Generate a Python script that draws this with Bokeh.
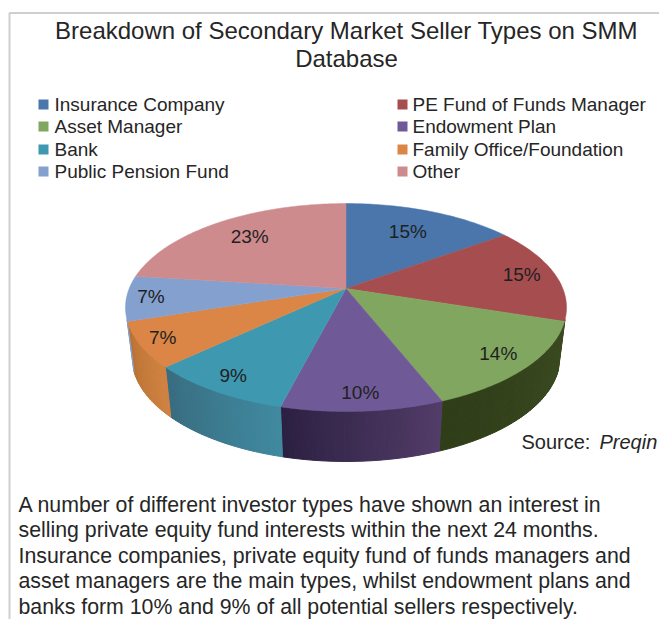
import math
from bokeh.plotting import figure
from bokeh.embed import file_html
from bokeh.resources import INLINE
from bokeh.core.properties import value

title_lines = ["Breakdown of Secondary Market Seller Types on SMM", "Database"]
categories = ["Insurance Company", "PE Fund of Funds Manager", "Asset Manager", "Endowment Plan",
              "Bank", "Family Office/Foundation", "Public Pension Fund", "Other"]
shares = [15, 15, 14, 10, 9, 7, 7, 23]
top_colors = ["#4a76ab", "#a64d4f", "#81a65f", "#6f5a97", "#3e98b0", "#db8646", "#84a0cf", "#cd8b8e"]
wall_start = ["#2f4a6d", "#6b3233", "#3a4a20", "#523c68", "#40899f", "#d08242", "#84a0cf", "#cd8b8e"]
wall_end = ["#2f4a6d", "#6b3233", "#2f3d18", "#2c2042", "#386c80", "#b97232", "#84a0cf", "#cd8b8e"]
label_radius = [0.70, 0.84, 0.86, 0.88, 0.88, 0.9, 0.89, 0.74]
body_lines = [
    "A number of different investor types have shown an interest in",
    "selling private equity fund interests within the next 24 months.",
    "Insurance companies, private equity fund of funds managers and",
    "asset managers are the main types, whilst endowment plans and",
    "banks form 10% and 9% of all potential sellers respectively.",
]

W, H = 659, 619
CX, CY, R, C, K = 345.5, 288.0, 216.8, 100.5, 0.1827
DEPTH, SHRINK = 50.0, 0.97
INK = "#262626"
FONT = value("Liberation Sans")

p = figure(width=W, height=H, x_range=(0, W), y_range=(H, 0), output_backend="svg",
           toolbar_location=None, min_border=0, outline_line_color=None,
           background_fill_color="white", border_fill_color="white")
p.axis.visible = False
p.grid.visible = False


def project(theta, r=1.0):
    u, v = r * math.sin(theta), r * math.cos(theta)
    d = 1 + K * v
    return R * u / d, C * v / d


def mix(a, b, t):
    ca = [int(a[i:i + 2], 16) for i in (1, 3, 5)]
    cb = [int(b[i:i + 2], 16) for i in (1, 3, 5)]
    return "#%02x%02x%02x" % tuple(round(x + (y - x) * t) for x, y in zip(ca, cb))


# frame
p.line([9, 9, W], [H, 12.5, 12.5], line_color="#cfcfcf", line_width=2)

# slice boundaries
total = sum(shares)
bounds, acc = [0.0], 0
for s in shares:
    acc += s
    bounds.append(2 * math.pi * acc / total)

# side wall
qx, qy, qc = [], [], []
for i in range(len(shares)):
    a0, a1 = bounds[i], bounds[i + 1]
    n = max(2, int(math.degrees(a1 - a0)))
    for j in range(n):
        t0, t1 = a0 + (a1 - a0) * j / n, a0 + (a1 - a0) * (j + 1) / n
        m = (t0 + t1) / 2
        if math.cos(m) > -0.3:
            continue
        x0, y0 = project(t0)
        x1, y1 = project(t1)
        qx.append([CX + x0, CX + x1, CX + x1 * SHRINK, CX + x0 * SHRINK])
        qy.append([CY - y0, CY - y1, CY - y1 + DEPTH, CY - y0 + DEPTH])
        qc.append(mix(wall_start[i], wall_end[i], j / max(1, n - 1)))
p.patches(qx, qy, fill_color=qc, line_color=qc, line_width=1)

# top face
fx, fy = [], []
for i in range(len(shares)):
    a0, a1 = bounds[i], bounds[i + 1]
    n = max(2, int(math.degrees(a1 - a0)))
    xs, ys = [CX], [CY]
    for j in range(n + 1):
        x, y = project(a0 + (a1 - a0) * j / n)
        xs.append(CX + x)
        ys.append(CY - y)
    fx.append(xs)
    fy.append(ys)
p.patches(fx, fy, fill_color=top_colors, line_color=top_colors, line_width=0.5)

# percentage labels
lx, ly, lt = [], [], []
for i, s in enumerate(shares):
    x, y = project((bounds[i] + bounds[i + 1]) / 2, label_radius[i])
    lx.append(CX + x)
    ly.append(CY - y - 1)
    lt.append(f"{s}%")
p.text(lx, ly, text=lt, text_font=FONT, text_font_size="19px", text_color="#1f1f1f",
       text_align="center", text_baseline="middle")

# title
p.text([346, 346], [30, 58], text=title_lines, text_font=FONT, text_font_size="24px",
       text_color=INK, text_align="center", text_baseline="middle")

# legend
col_x = [38, 397]
row_y = [104, 126, 149, 171]
sx, sy, tx, ty = [], [], [], []
for i in range(len(categories)):
    col, row = i % 2, i // 2
    sx.append(col_x[col] + 5)
    sy.append(row_y[row])
    tx.append(col_x[col] + (16 if col == 0 else 15))
    ty.append(row_y[row])
p.rect(sx, sy, width=10, height=10, fill_color=top_colors, line_color=None)
p.text(tx, ty, text=categories, text_font=FONT, text_font_size="19px", text_color=INK,
       text_align="left", text_baseline="middle")

# source
p.text([521], [441], text=["Source:"], text_font=FONT, text_font_size="20px", text_color=INK,
       text_align="left", text_baseline="middle")
p.text([599], [441], text=["Preqin"], text_font=FONT, text_font_size="20px", text_color=INK,
       text_font_style="italic", text_align="left", text_baseline="middle")

# commentary
p.text([18] * 5, [504, 529, 555, 580, 606], text=body_lines, text_font=FONT, text_font_size="21.3px",
       text_color=INK, text_align="left", text_baseline="middle")

open("out.html", "w").write(file_html(p, INLINE))
